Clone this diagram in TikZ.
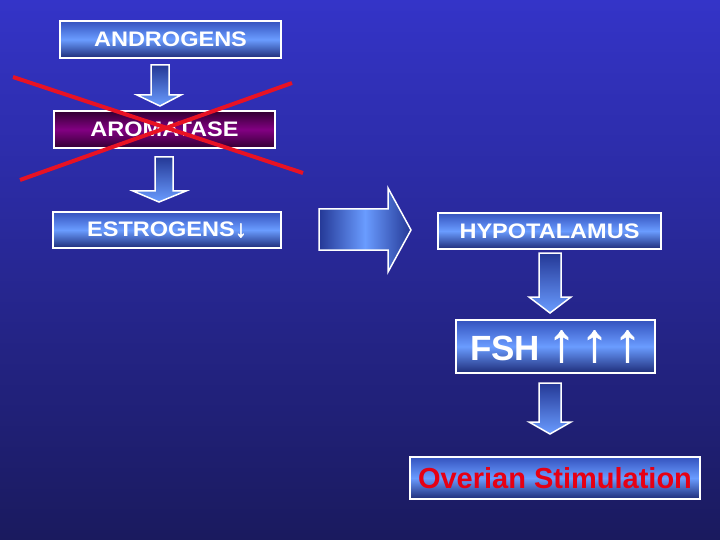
\documentclass[tikz,border=0pt]{standalone}
\usepackage{fontspec}
\setmainfont{Liberation Sans}
\newfontfamily\boxfont[FakeStretch=1.12]{Liberation Sans}
\newfontfamily\arrowfont[FakeBold=1.6]{Liberation Sans}
\definecolor{bgtop}{RGB}{52,52,200}
\definecolor{bgbot}{RGB}{26,26,94}
\definecolor{boxtop}{RGB}{52,82,190}
\definecolor{boxbot}{RGB}{30,44,120}
\definecolor{boxdark}{RGB}{36,56,150}
\definecolor{boxlight}{RGB}{106,156,255}
\definecolor{purpdark}{RGB}{50,0,50}
\definecolor{purplight}{RGB}{130,0,130}
\definecolor{xred}{RGB}{232,18,36}
\definecolor{txtred}{RGB}{230,0,20}
\tikzset{
  bluebox/.style={draw=white, line width=2pt, top color=boxtop, bottom color=boxbot, middle color=boxlight,
    text=white, font=\boxfont\bfseries\fontsize{21}{24}\selectfont, inner sep=0pt},
  purpbox/.style={draw=white, line width=2pt, top color=purpdark, bottom color=purpdark, middle color=purplight,
    text=white, font=\boxfont\bfseries\fontsize{21}{24}\selectfont, inner sep=0pt},
  darr/.style={draw=white, line width=1.5pt, top color=boxdark, bottom color=boxlight, line join=miter},
  rarr/.style={draw=white, line width=1.5pt, left color=boxdark, right color=boxdark, middle color=boxlight, line join=miter},
  cross/.style={draw=xred, line width=4pt}
}
\begin{document}
\begin{tikzpicture}[x=1pt,y=-1pt]
\useasboundingbox (0,0) rectangle (720,540);
\shade[top color=bgtop, bottom color=bgbot] (0,0) rectangle (720,540);

% boxes
\node[bluebox, minimum width=221pt, minimum height=37pt] (andro) at (170.5,39.5) {ANDROGENS};
\node[purpbox, minimum width=221pt, minimum height=37pt] (aroma) at (164.5,129.5) {AROMATASE};
\node[bluebox, minimum width=228pt, minimum height=36pt] (estro) at (167,230)
  {ESTROGENS{\arrowfont\fontsize{24}{24}\selectfont ↓}};
\node[bluebox, minimum width=223pt, minimum height=36pt] (hypo) at (549.5,231) {HYPOTALAMUS};
\node[bluebox, minimum width=199pt, minimum height=53pt, font=\bfseries\fontsize{35}{40}\selectfont] (fsh) at (555.5,346.5)
  {FSH\hspace{8pt}{\arrowfont\fontsize{54}{54}\selectfont ↑\hspace{6pt}↑\hspace{6pt}↑}};
\node[bluebox, minimum width=290pt, minimum height=42pt, text=txtred, font=\bfseries\fontsize{29}{32}\selectfont] (ovar) at (555,478) {Overian Stimulation};

% down arrows
\path[darr] (151,65) -- (169,65) -- (169,95) -- (181,95) -- (160,106) -- (137,95) -- (151,95) -- cycle;
\path[darr] (155,157) -- (173,157) -- (173,191) -- (186,191) -- (159,202) -- (133,191) -- (155,191) -- cycle;
\path[darr] (539,253) -- (561,253) -- (561,297) -- (571,297) -- (550,313) -- (529,297) -- (539,297) -- cycle;
\path[darr] (539,383) -- (561,383) -- (561,422) -- (571,422) -- (550,434) -- (529,422) -- (539,422) -- cycle;

% big right arrow
\path[rarr] (319,209) -- (388,209) -- (388,188) -- (411,230) -- (388,272) -- (388,250) -- (319,250) -- cycle;

% red cross
\coordinate (c1a) at (13,77);
\coordinate (c1b) at (303,173);
\coordinate (c2a) at (20,180);
\coordinate (c2b) at (292,83);
\draw[cross] (c1a) -- (c1b);
\draw[cross] (c2a) -- (c2b);
\end{tikzpicture}
\end{document}
